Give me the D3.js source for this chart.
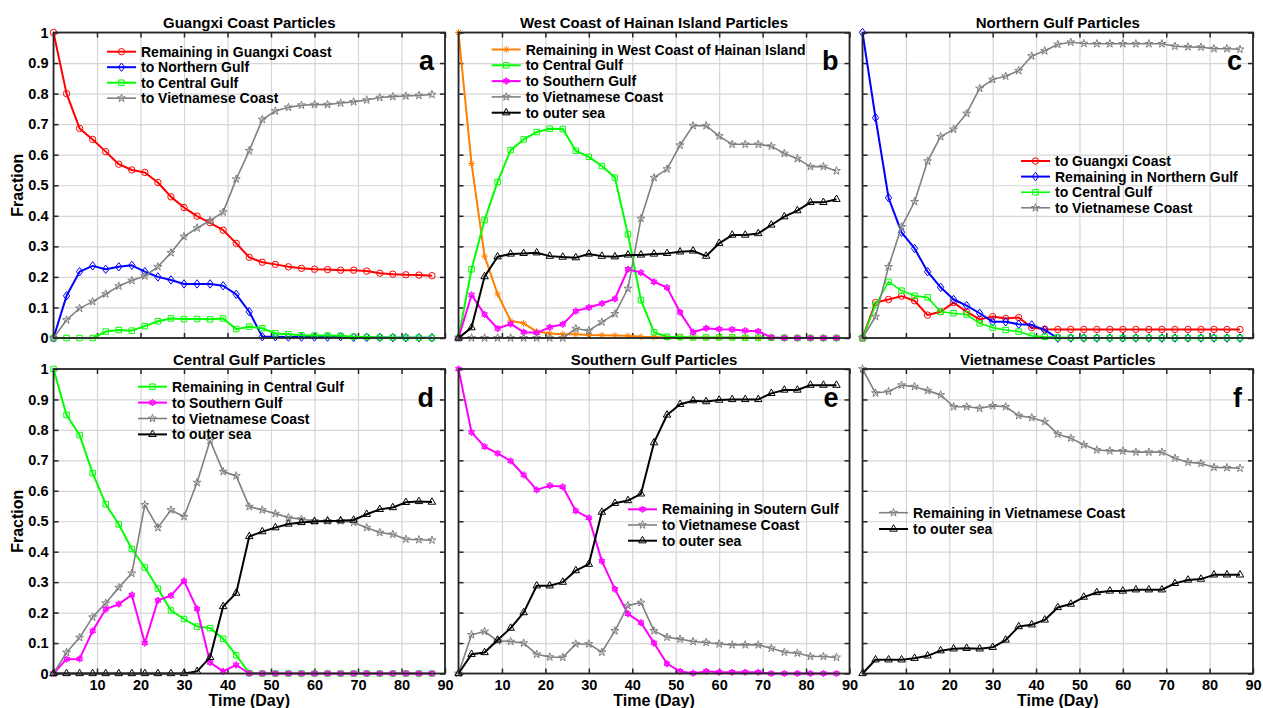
<!DOCTYPE html>
<html>
<head>
<meta charset="utf-8">
<script src="https://cdn.jsdelivr.net/npm/d3@7"></script>
<style>
  body { margin: 0; background: #fff; }
  text { font-family: "Liberation Sans", Arial, sans-serif; font-weight: bold; fill: #000; }
</style>
</head>
<body>
<script>
// Particle fate fractions, six release regions

const days = [0, 3, 6, 9, 12, 15, 18, 21, 24, 27, 30, 33, 36, 39, 42, 45, 48, 51, 54, 57, 60, 63, 66, 69, 72, 75, 78, 81, 84, 87];
const xTicks = [0, 10, 20, 30, 40, 50, 60, 70, 80, 90];
const xTickLabels = ["", "10", "20", "30", "40", "50", "60", "70", "80", "90"];
const yTicks = [0, 0.1, 0.2, 0.3, 0.4, 0.5, 0.6, 0.7, 0.8, 0.9, 1];
const yTickLabels = ["0", "0.1", "0.2", "0.3", "0.4", "0.5", "0.6", "0.7", "0.8", "0.9", "1"];

// a: Guangxi Coast
const aRemaining = [1.0,0.80,0.686,0.65,0.61,0.569,0.55,0.542,0.509,0.462,0.427,0.399,0.377,0.353,0.31,0.264,0.248,0.241,0.233,0.228,0.225,0.224,0.222,0.222,0.219,0.212,0.209,0.207,0.206,0.204];
const aNorthern = [0,0.138,0.217,0.236,0.225,0.233,0.238,0.217,0.2,0.19,0.177,0.177,0.177,0.171,0.143,0.086,0.004,0.004,0.003,0.003,0.003,0.003,0.004,0.002,0.002,0.002,0.001,0.001,0.001,0.001];
const aCentral = [0,0,0,0,0.021,0.026,0.024,0.039,0.055,0.064,0.062,0.062,0.061,0.064,0.029,0.037,0.032,0.015,0.012,0.009,0.008,0.008,0.007,0.004,0.003,0.002,0.002,0.001,0.001,0];
const aVietnam = [0,0.059,0.097,0.119,0.144,0.17,0.188,0.203,0.233,0.279,0.332,0.36,0.384,0.412,0.52,0.613,0.715,0.743,0.755,0.762,0.764,0.764,0.769,0.773,0.779,0.787,0.79,0.792,0.794,0.797];

// b: West Coast of Hainan Island
const bRemaining = [1.0,0.571,0.268,0.144,0.056,0.048,0.021,0.015,0.012,0.012,0.01,0.009,0.008,0.007,0.004,0.003,0.002,0.002,0.001,0.001,0.001,0.001,0.001,0,0,0,0,0,0,0];
const bCentral = [0,0.225,0.386,0.511,0.615,0.65,0.674,0.685,0.684,0.613,0.593,0.563,0.525,0.339,0.124,0.019,0.004,0.003,0.002,0.002,0.002,0.002,0.001,0.001,0.001,0.001,0,0,0,0];
const bSouthern = [0,0.141,0.077,0.031,0.046,0.019,0.017,0.035,0.045,0.088,0.1,0.113,0.128,0.225,0.214,0.184,0.165,0.084,0.019,0.032,0.029,0.028,0.024,0.022,0.002,0,0,0,0,0];
const bVietnam = [0,0,0,0,0,0,0,0,0,0.031,0.024,0.052,0.079,0.162,0.391,0.525,0.553,0.631,0.695,0.695,0.661,0.634,0.634,0.634,0.628,0.604,0.587,0.561,0.561,0.547];
const bOuter = [0,0.034,0.201,0.266,0.275,0.277,0.279,0.268,0.265,0.263,0.275,0.268,0.266,0.272,0.272,0.275,0.277,0.282,0.285,0.268,0.31,0.337,0.337,0.342,0.37,0.397,0.417,0.444,0.444,0.454];

// c: Northern Gulf
const cGuangxi = [0,0.116,0.126,0.137,0.122,0.075,0.086,0.116,0.086,0.061,0.07,0.064,0.067,0.034,0.029,0.028,0.028,0.028,0.028,0.028,0.028,0.028,0.028,0.028,0.028,0.028,0.028,0.028,0.028,0.028];
const cRemaining = [1.0,0.721,0.459,0.346,0.293,0.217,0.166,0.126,0.106,0.081,0.053,0.053,0.045,0.043,0.026,0,0,0,0,0,0,0,0,0,0,0,0,0,0,0];
const cCentral = [0,0.108,0.184,0.155,0.138,0.133,0.086,0.081,0.077,0.048,0.034,0.026,0.021,0.007,0.004,0.002,0.001,0,0,0,0,0,0,0,0,0,0,0,0,0];
const cVietnam = [0,0.07,0.233,0.364,0.446,0.579,0.659,0.683,0.735,0.817,0.846,0.857,0.875,0.923,0.94,0.961,0.968,0.964,0.963,0.963,0.963,0.963,0.963,0.963,0.955,0.953,0.952,0.947,0.947,0.945];

// d: Central Gulf
const dRemaining = [1.0,0.849,0.783,0.658,0.556,0.49,0.409,0.348,0.279,0.207,0.179,0.154,0.149,0.114,0.06,0.001,0,0,0,0,0,0,0,0,0,0,0,0,0,0];
const dSouthern = [0,0.047,0.048,0.14,0.211,0.228,0.258,0.1,0.24,0.256,0.304,0.212,0.036,0.007,0.028,0,0,0,0,0,0,0,0,0,0,0,0,0,0,0];
const dVietnam = [0,0.069,0.118,0.185,0.231,0.282,0.329,0.554,0.479,0.537,0.515,0.627,0.765,0.663,0.649,0.548,0.537,0.525,0.512,0.507,0.501,0.501,0.501,0.496,0.479,0.463,0.457,0.441,0.439,0.438];
const dOuter = [0,0,0,0,0,0,0,0,0,0,0,0.007,0.053,0.22,0.264,0.45,0.466,0.479,0.491,0.496,0.499,0.501,0.502,0.504,0.523,0.539,0.545,0.562,0.565,0.563];

// e: Southern Gulf
const eRemaining = [1.0,0.792,0.745,0.723,0.698,0.652,0.603,0.617,0.613,0.534,0.511,0.369,0.277,0.196,0.167,0.1,0.032,0.007,0.001,0.007,0.004,0.004,0.004,0.004,0,0,0,0,0,0];
const eVietnam = [0,0.127,0.138,0.107,0.105,0.1,0.063,0.054,0.053,0.097,0.097,0.07,0.14,0.223,0.233,0.14,0.119,0.113,0.105,0.102,0.097,0.094,0.094,0.094,0.083,0.07,0.067,0.056,0.056,0.053];
const eOuter = [0,0.063,0.069,0.11,0.149,0.2,0.288,0.288,0.3,0.338,0.359,0.53,0.559,0.568,0.59,0.758,0.849,0.884,0.896,0.893,0.898,0.9,0.9,0.9,0.92,0.931,0.931,0.947,0.947,0.947];

// f: Vietnamese Coast
const fRemaining = [1.0,0.921,0.926,0.947,0.942,0.929,0.915,0.876,0.876,0.871,0.879,0.876,0.847,0.84,0.827,0.786,0.773,0.751,0.734,0.731,0.731,0.727,0.727,0.727,0.707,0.694,0.69,0.677,0.676,0.674];
const fOuter = [0,0.045,0.045,0.045,0.05,0.058,0.075,0.081,0.083,0.081,0.086,0.11,0.154,0.16,0.176,0.217,0.228,0.251,0.266,0.271,0.271,0.275,0.275,0.275,0.296,0.307,0.31,0.324,0.324,0.324];

const panelTitles = ["Guangxi Coast Particles", "West Coast of Hainan Island Particles", "Northern Gulf Particles",
                     "Central Gulf Particles", "Southern Gulf Particles", "Vietnamese Coast Particles"];
const panelLetters = ["a", "b", "c", "d", "e", "f"];

// series styles
const RED = {color: "#ff0000", mark: "o", w: 2};
const BLUE = {color: "#0000ff", mark: "d", w: 2};
const GREEN = {color: "#00ff00", mark: "s", w: 2};
const GRAY = {color: "#808080", mark: "p", w: 1.6};
const ORANGE = {color: "#ff8000", mark: "*", w: 2};
const MAGENTA = {color: "#ff00ff", mark: "h", w: 2};
const BLACK = {color: "#000000", mark: "^", w: 2};

const panels = [
  {series: [
    {name: "Remaining in Guangxi Coast", values: aRemaining, ...RED},
    {name: "to Northern Gulf", values: aNorthern, ...BLUE},
    {name: "to Central Gulf", values: aCentral, ...GREEN},
    {name: "to Vietnamese Coast", values: aVietnam, ...GRAY}],
   legend: {dx: 53.5, dy: 19.2, gap: 15.5}},
  {series: [
    {name: "Remaining in West Coast of Hainan Island", values: bRemaining, ...ORANGE},
    {name: "to Central Gulf", values: bCentral, ...GREEN},
    {name: "to Southern Gulf", values: bSouthern, ...MAGENTA},
    {name: "to Vietnamese Coast", values: bVietnam, ...GRAY},
    {name: "to outer sea", values: bOuter, ...BLACK}],
   legend: {dx: 33.2, dy: 17, gap: 15.8}},
  {series: [
    {name: "to Guangxi Coast", values: cGuangxi, ...RED},
    {name: "Remaining in Northern Gulf", values: cRemaining, ...BLUE},
    {name: "to Central Gulf", values: cCentral, ...GREEN, w: 1.6},
    {name: "to Vietnamese Coast", values: cVietnam, ...GRAY}],
   legend: {dx: 158.5, dy: 128.5, gap: 15.6}},
  {series: [
    {name: "Remaining in Central Gulf", values: dRemaining, ...GREEN},
    {name: "to Southern Gulf", values: dSouthern, ...MAGENTA},
    {name: "to Vietnamese Coast", values: dVietnam, ...GRAY},
    {name: "to outer sea", values: dOuter, ...BLACK}],
   legend: {dx: 84.5, dy: 17.7, gap: 15.9}},
  {series: [
    {name: "Remaining in Soutern Gulf", values: eRemaining, ...MAGENTA},
    {name: "to Vietnamese Coast", values: eVietnam, ...GRAY},
    {name: "to outer sea", values: eOuter, ...BLACK}],
   legend: {dx: 169.5, dy: 140.3, gap: 15.7}},
  {series: [
    {name: "Remaining in Vietnamese Coast", values: fRemaining, ...GRAY},
    {name: "to outer sea", values: fOuter, ...BLACK}],
   legend: {dx: 16.5, dy: 143.7, gap: 16.3}}
];

const width = 1263, height = 708;
const colX = [[53.5, 445], [458.5, 849.5], [862.5, 1253]];
const rowY = [[32.5, 338], [369, 673.5]];

const svg = d3.select("body").append("svg")
  .attr("width", width)
  .attr("height", height);

// MATLAB-like marker shapes
function markerPath(type) {
  const r = 3.4;
  if (type === "o") return d3.symbol(d3.symbolCircle, Math.PI * 3.2 * 3.2)();
  if (type === "s") return d3.symbol(d3.symbolSquare, 30)();
  if (type === "^") return d3.symbol(d3.symbolTriangle, 24)();
  if (type === "p") return d3.symbol(d3.symbolStar, 20)();
  if (type === "d") return `M0,${-4.2}L3.2,0L0,4.2L-3.2,0Z`;
  if (type === "*") {
    const a = r * 0.71;
    return `M${-r},0L${r},0M0,${-r}L0,${r}M${-a},${-a}L${a},${a}M${-a},${a}L${a},${-a}`;
  }
  if (type === "h") {
    const tri = (rot) => d3.range(3).map(k => {
      const t = rot + k * 2 * Math.PI / 3;
      return [r * Math.sin(t), -r * Math.cos(t)];
    });
    const p = (pts) => "M" + pts.map(q => q.join(",")).join("L") + "Z";
    return p(tri(0)) + p(tri(Math.PI));
  }
  return "";
}

panels.forEach((p, i) => {
  const col = i % 3, row = Math.floor(i / 3);
  const [x0, x1] = colX[col];
  const [y0, y1] = rowY[row];
  const x = d3.scaleLinear().domain([0, 90]).range([x0, x1]);
  const y = d3.scaleLinear().domain([0, 1]).range([y1, y0]);
  const g = svg.append("g");

  // grid
  g.append("g").attr("transform", `translate(0,${y1})`)
    .call(d3.axisBottom(x).tickValues(xTicks).tickSize(-(y1 - y0)).tickFormat(""))
    .call(s => s.select(".domain").remove())
    .selectAll("line").attr("stroke", "#d6d6d6").attr("stroke-width", 1.2);
  g.append("g").attr("transform", `translate(${x0},0)`)
    .call(d3.axisLeft(y).tickValues(yTicks).tickSize(-(x1 - x0)).tickFormat(""))
    .call(s => s.select(".domain").remove())
    .selectAll("line").attr("stroke", "#d6d6d6").attr("stroke-width", 1.2);

  // inward ticks on all four sides
  const left = g.append("g").attr("transform", `translate(${x0},0)`)
    .call(d3.axisLeft(y).tickValues(yTicks).tickSize(-5).tickPadding(5)
      .tickFormat((d, k) => col === 0 ? yTickLabels[k] : ""));
  const bottom = g.append("g").attr("transform", `translate(0,${y1})`)
    .call(d3.axisBottom(x).tickValues(xTicks).tickSize(-5).tickPadding(6)
      .tickFormat((d, k) => row === 1 ? xTickLabels[k] : ""));
  g.append("g").attr("transform", `translate(${x1},0)`)
    .call(d3.axisRight(y).tickValues(yTicks).tickSize(-5).tickFormat(""));
  g.append("g").attr("transform", `translate(0,${y0})`)
    .call(d3.axisTop(x).tickValues(xTicks).tickSize(-5).tickFormat(""));
  g.selectAll(".domain").remove();
  g.selectAll(".tick line").filter(function() { return this.getAttribute("stroke") === "currentColor"; })
    .attr("stroke", "#262626").attr("stroke-width", 1.5);
  left.selectAll("text").style("font-size", "14.5px").attr("fill", "#000");
  bottom.selectAll("text").style("font-size", "14.5px").attr("fill", "#000");

  // series lines + markers
  const line = d3.line().x((d, k) => x(days[k])).y(d => y(d));
  p.series.forEach(s => {
    g.append("path").datum(s.values)
      .attr("d", line)
      .attr("fill", "none")
      .attr("stroke", s.color)
      .attr("stroke-width", s.w)
      .attr("stroke-linejoin", "round");
    g.append("g").selectAll("path")
      .data(s.values)
      .join("path")
      .attr("transform", (d, k) => `translate(${x(days[k])},${y(d)})`)
      .attr("d", markerPath(s.mark))
      .attr("fill", "none")
      .attr("stroke", s.color)
      .attr("stroke-width", 1);
  });

  // frame
  g.append("rect")
    .attr("x", x0).attr("y", y0)
    .attr("width", x1 - x0).attr("height", y1 - y0)
    .attr("fill", "none")
    .attr("stroke", "#262626")
    .attr("stroke-width", 1.8);

  // legend (no box)
  const lg = g.append("g").attr("transform", `translate(${x0 + p.legend.dx},${y0 + p.legend.dy})`);
  p.series.forEach((s, k) => {
    const ly = k * p.legend.gap;
    lg.append("line")
      .attr("x1", 0).attr("x2", 29).attr("y1", ly).attr("y2", ly)
      .attr("stroke", s.color).attr("stroke-width", s.w);
    lg.append("path")
      .attr("transform", `translate(14.5,${ly})`)
      .attr("d", markerPath(s.mark))
      .attr("fill", "none").attr("stroke", s.color).attr("stroke-width", 1);
    lg.append("text")
      .attr("x", 34).attr("y", ly).attr("dy", "0.36em")
      .style("font-size", "14px")
      .text(s.name);
  });

  // title and panel letter
  g.append("text")
    .attr("x", (x0 + x1) / 2).attr("y", y0 - 4.5)
    .attr("text-anchor", "middle")
    .style("font-size", "15px")
    .text(panelTitles[i]);
  g.append("text")
    .attr("x", x1 - 11).attr("y", y0 + 37.5)
    .attr("text-anchor", "end")
    .style("font-size", "27px")
    .text(panelLetters[i]);

  if (col === 0) {
    g.append("text")
      .attr("transform", `translate(23,${(y0 + y1) / 2}) rotate(-90)`)
      .attr("text-anchor", "middle")
      .style("font-size", "16px")
      .text("Fraction");
  }
  if (row === 1) {
    g.append("text")
      .attr("x", (x0 + x1) / 2).attr("y", 706)
      .attr("text-anchor", "middle")
      .style("font-size", "16px")
      .text("Time (Day)");
  }
});
</script>
</body>
</html>
